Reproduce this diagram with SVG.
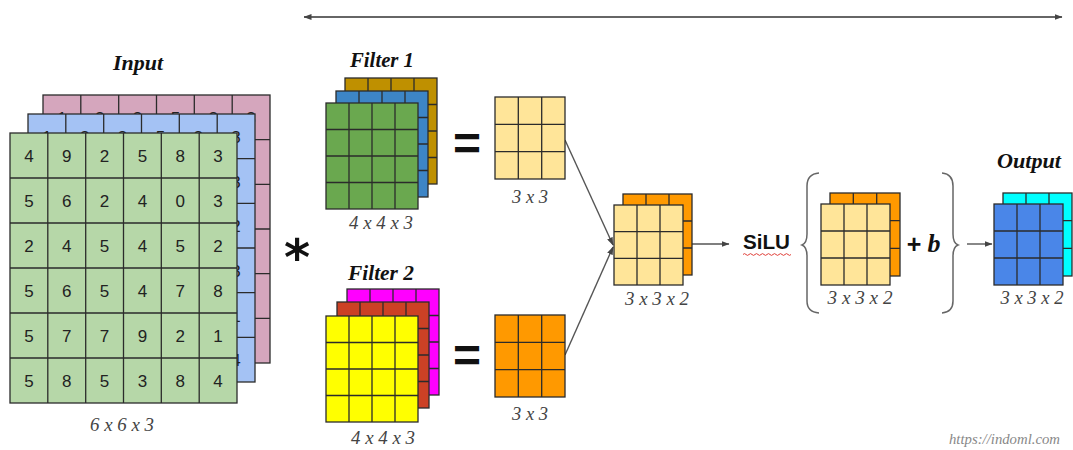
<svg xmlns="http://www.w3.org/2000/svg" width="1073" height="450" viewBox="0 0 1073 450">
<style>
.g{stroke:#2b2b2b;stroke-width:1.3;fill:none}
.cell{stroke:#2b2b2b;stroke-width:1.3}
.d{font-family:"Liberation Sans",Arial,sans-serif;font-size:17px;fill:#222;text-anchor:middle}
.t{font-family:"Liberation Serif","Times New Roman",serif;font-weight:bold;font-style:italic;font-size:20px;fill:#111;text-anchor:middle}
.lab{font-family:"Liberation Serif","Times New Roman",serif;font-style:italic;font-size:19px;fill:#444;text-anchor:middle}
.eq{font-family:"Liberation Sans",Arial,sans-serif;font-weight:bold;font-size:48px;fill:#111;text-anchor:middle}
.con{stroke:#555;stroke-width:1.4;fill:none}
.br{stroke:#666;stroke-width:1.5;fill:none}
</style>
<defs>
<marker id="ah" markerWidth="8" markerHeight="6" refX="7.5" refY="3" orient="auto-start-reverse" markerUnits="userSpaceOnUse">
<path d="M0,0 L8,3 L0,6 z" fill="#444"/>
</marker>
</defs>

<g id="connectors">
<line class="con" x1="304" y1="17" x2="1062" y2="17" marker-start="url(#ah)" marker-end="url(#ah)" style="stroke:#666;stroke-width:2"/>
<line class="con" x1="565" y1="140" x2="613" y2="245" marker-end="url(#ah)"/>
<line class="con" x1="565" y1="355" x2="613" y2="247" marker-end="url(#ah)"/>
<line class="con" x1="692" y1="244" x2="729" y2="244" marker-end="url(#ah)"/>
<line class="con" x1="967" y1="244" x2="992" y2="244" marker-end="url(#ah)"/>
</g>

<g id="input">
<text class="t" x="138" y="70" textLength="50" lengthAdjust="spacingAndGlyphs">Input</text>
<rect class="cell" x="43" y="95" width="227" height="268" fill="#d5a6bd"/>
<path class="g" d="M80.8 95V363M118.7 95V363M156.5 95V363M194.3 95V363M232.2 95V363M43 139.7H270M43 184.3H270M43 229H270M43 273.7H270M43 318.3H270"/>
<text class="d" x="61.9 99.7 137.5 175.4 213.2 251" y="124">123523</text>
<rect class="cell" x="28" y="114" width="227" height="268" fill="#a4c2f4"/>
<path class="g" d="M65.8 114V382M103.7 114V382M141.5 114V382M179.3 114V382M217.2 114V382M28 158.7H255M28 203.3H255M28 248H255M28 292.7H255M28 337.3H255"/>
<text class="d" x="46.9 84.7 122.5 160.4 198.2 236" y="143">123528</text>
<text class="d" x="236" y="187.7">3</text>
<text class="d" x="236" y="232.3">2</text>
<text class="d" x="236" y="277">3</text>
<text class="d" x="236" y="321.7">1</text>
<text class="d" x="236" y="366.3">4</text>
<rect class="cell" x="10" y="133" width="227" height="270" fill="#b6d7a8"/>
<path class="g" d="M47.8 133V403M85.7 133V403M123.5 133V403M161.3 133V403M199.2 133V403M10 178H237M10 223H237M10 268H237M10 313H237M10 358H237"/>
<text class="d" x="28.9 66.8 104.6 142.4 180.3 218.1" y="162">492583</text>
<text class="d" x="28.9 66.8 104.6 142.4 180.3 218.1" y="207">562403</text>
<text class="d" x="28.9 66.8 104.6 142.4 180.3 218.1" y="252">245452</text>
<text class="d" x="28.9 66.8 104.6 142.4 180.3 218.1" y="297">565478</text>
<text class="d" x="28.9 66.8 104.6 142.4 180.3 218.1" y="342">577921</text>
<text class="d" x="28.9 66.8 104.6 142.4 180.3 218.1" y="387">585384</text>
<text class="lab" x="122" y="431" textLength="64" lengthAdjust="spacingAndGlyphs">6 x 6 x 3</text>
</g>

<g id="conv-op">
<text x="297" y="275" style="font-family:'DejaVu Sans',sans-serif;font-weight:bold;font-size:50px;fill:#111;text-anchor:middle">*</text>
</g>

<g id="filter1">
<text class="t" x="382" y="67" textLength="64" lengthAdjust="spacingAndGlyphs">Filter 1</text>
<rect class="cell" x="345" y="78" width="92" height="106" fill="#bf9000"/>
<path class="g" d="M368 78V184M391 78V184M414 78V184M345 104.5H437M345 131H437M345 157.5H437"/>
<rect class="cell" x="336" y="91" width="92" height="106" fill="#3d85c6"/>
<path class="g" d="M359 91V197M382 91V197M405 91V197M336 117.5H428M336 144H428M336 170.5H428"/>
<rect class="cell" x="326" y="103" width="92" height="106" fill="#6aa84f"/>
<path class="g" d="M349 103V209M372 103V209M395 103V209M326 129.5H418M326 156H418M326 182.5H418"/>
<text class="lab" x="381" y="229" textLength="64" lengthAdjust="spacingAndGlyphs">4 x 4 x 3</text>
</g>

<g id="filter2">
<text class="t" x="381" y="280" textLength="66" lengthAdjust="spacingAndGlyphs">Filter 2</text>
<rect class="cell" x="347" y="289" width="92" height="106" fill="#ff00ff"/>
<path class="g" d="M370 289V395M393 289V395M416 289V395M347 315.5H439M347 342H439M347 368.5H439"/>
<rect class="cell" x="337" y="302" width="92" height="106" fill="#cc4125"/>
<path class="g" d="M360 302V408M383 302V408M406 302V408M337 328.5H429M337 355H429M337 381.5H429"/>
<rect class="cell" x="326" y="316" width="92" height="106" fill="#ffff00"/>
<path class="g" d="M349 316V422M372 316V422M395 316V422M326 342.5H418M326 369H418M326 395.5H418"/>
<text class="lab" x="383" y="444" textLength="64" lengthAdjust="spacingAndGlyphs">4 x 4 x 3</text>
</g>

<g id="eq1"><text class="eq" x="467" y="160">=</text></g>
<g id="eq2"><text class="eq" x="467" y="372">=</text></g>

<g id="map1">
<rect class="cell" x="495" y="97" width="70" height="82" fill="#ffe599"/>
<path class="g" d="M518.3 97V179M541.7 97V179M495 124.3H565M495 151.7H565"/>
<text class="lab" x="530" y="203" textLength="36" lengthAdjust="spacingAndGlyphs">3 x 3</text>
</g>

<g id="map2">
<rect class="cell" x="495" y="315" width="70" height="82" fill="#ff9900"/>
<path class="g" d="M518.3 315V397M541.7 315V397M495 342.3H565M495 369.7H565"/>
<text class="lab" x="530" y="420" textLength="36" lengthAdjust="spacingAndGlyphs">3 x 3</text>
</g>

<g id="stacked">
<rect class="cell" x="623" y="194" width="69" height="81" fill="#ff9900"/>
<path class="g" d="M646 194V275M669 194V275M623 221H692M623 248H692"/>
<rect class="cell" x="614" y="205" width="69" height="80" fill="#ffe599"/>
<path class="g" d="M637 205V285M660 205V285M614 231.7H683M614 258.3H683"/>
<text class="lab" x="657" y="305" textLength="64" lengthAdjust="spacingAndGlyphs">3 x 3 x 2</text>
</g>

<g id="silu">
<text x="743" y="249" textLength="47" lengthAdjust="spacingAndGlyphs" style="font-family:'Liberation Sans',Arial,sans-serif;font-weight:bold;font-size:20px;fill:#111">SiLU</text>
<path d="M743 254.5q1.5 -1.8 3 0t3 0t3 0t3 0t3 0t3 0t3 0t3 0t3 0t3 0t3 0t3 0t3 0t3 0t3 0t3 0" stroke="#e0403a" stroke-width="1" fill="none"/>
</g>

<g id="activation">
<path class="br" d="M819 173Q807 174 807 186V234Q807 243 802 245Q807 247 807 256V301Q807 312 819 313"/>
<rect class="cell" x="830" y="193" width="70" height="83" fill="#ff9900"/>
<path class="g" d="M853.3 193V276M876.7 193V276M830 220.7H900M830 248.3H900"/>
<rect class="cell" x="821" y="204" width="69" height="81" fill="#ffe599"/>
<path class="g" d="M844 204V285M867 204V285M821 231H890M821 258H890"/>
<text class="lab" x="860" y="304" textLength="65" lengthAdjust="spacingAndGlyphs">3 x 3 x 2</text>
<text x="914" y="253" style="font-family:'Liberation Sans',Arial,sans-serif;font-weight:bold;font-size:25px;fill:#111;text-anchor:middle">+</text>
<text x="934" y="252" style="font-family:'Liberation Serif','Times New Roman',serif;font-weight:bold;font-style:italic;font-size:26px;fill:#111;text-anchor:middle">b</text>
<path class="br" d="M942 173Q953 174 953 186V234Q953 243 958 245Q953 247 953 256V301Q953 312 942 313"/>
</g>

<g id="output">
<text class="t" x="1029" y="168" textLength="64" lengthAdjust="spacingAndGlyphs">Output</text>
<rect class="cell" x="1003" y="193" width="69" height="83" fill="#00ffff"/>
<path class="g" d="M1026 193V276M1049 193V276M1003 220.7H1072M1003 248.3H1072"/>
<rect class="cell" x="994" y="204" width="69" height="81" fill="#4a86e8"/>
<path class="g" d="M1017 204V285M1040 204V285M994 231H1063M994 258H1063"/>
<text class="lab" x="1032" y="304" textLength="63" lengthAdjust="spacingAndGlyphs">3 x 3 x 2</text>
</g>

<g id="watermark">
<text x="949" y="444" textLength="111" lengthAdjust="spacingAndGlyphs" style="font-family:'Liberation Serif','Times New Roman',serif;font-style:italic;font-size:14px;fill:#888">https://indoml.com</text>
</g>
</svg>
